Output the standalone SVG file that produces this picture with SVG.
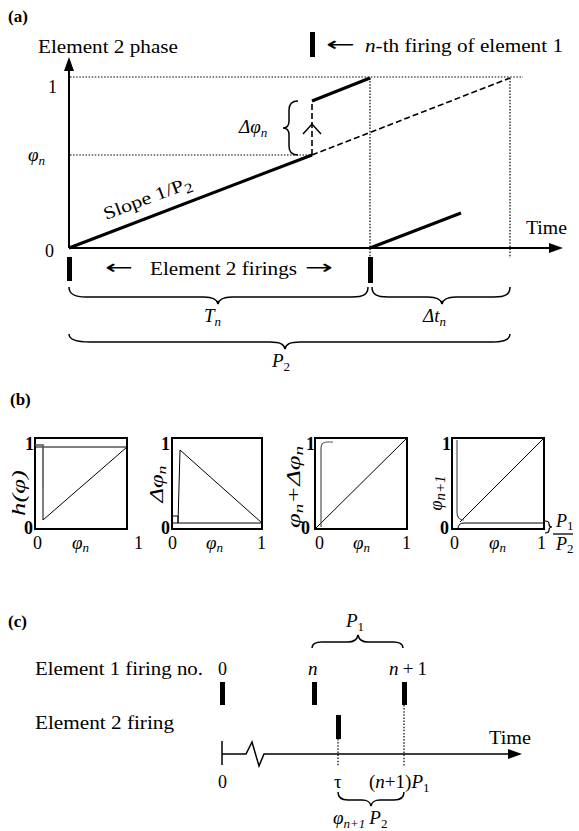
<svg xmlns="http://www.w3.org/2000/svg" width="579" height="831" viewBox="0 0 579 831">
<style>
text{font-family:"Liberation Serif","Times New Roman",serif;font-size:18px;fill:#000}
.b{font-weight:bold;font-size:17px}
.i{font-style:italic}
.m{font-size:19px}
.sub{font-size:13px}
.arr{font-family:"DejaVu Sans",sans-serif;font-size:20px}
.ax{stroke:#000;stroke-width:2;fill:none}
.thick{stroke:#000;stroke-width:3;fill:none}
.dot{stroke:#000;stroke-width:1.2;stroke-dasharray:1.5 1.6;fill:none}
.dash{stroke:#000;stroke-width:1.6;stroke-dasharray:6 3;fill:none}
.brace{stroke:#000;stroke-width:1.5;fill:none}
.box{stroke:#000;stroke-width:2;fill:none}
.thin{stroke:#000;stroke-width:1;fill:none}
.gray{stroke:#555;stroke-width:1.6;fill:none}
.bar{fill:#000}
</style>

<!-- Panel (a) -->
<g id="panel-a">
  <text class="b" x="8" y="22">(a)</text>
  <text x="38" y="53" textLength="140" lengthAdjust="spacingAndGlyphs">Element 2 phase</text>
  <g id="legend-bar">
    <rect class="bar" x="310" y="32" width="5" height="25"/>
    <text class="arr" x="326" y="51" textLength="29" lengthAdjust="spacingAndGlyphs">←</text>
    <text x="365" y="52" textLength="198" lengthAdjust="spacingAndGlyphs"><tspan class="i">n</tspan>-th firing of element 1</text>
  </g>
  <text x="48" y="93">1</text>
  <text class="i m" x="28" y="161">φ<tspan class="sub" dy="4">n</tspan></text>
  <text x="45" y="257">0</text>
  <text x="526" y="234" textLength="41" lengthAdjust="spacingAndGlyphs">Time</text>
  <text x="106" y="220" transform="rotate(-20.7 106 220)" font-size="20" textLength="93" lengthAdjust="spacingAndGlyphs">Slope 1/P<tspan font-size="14" dy="4">2</tspan></text>
  <text class="i m" x="239" y="133">Δφ<tspan class="sub" dy="4">n</tspan></text>
  <text class="arr" x="105" y="274" textLength="28" lengthAdjust="spacingAndGlyphs">←</text>
  <text x="150" y="275" textLength="147" lengthAdjust="spacingAndGlyphs">Element 2 firings</text>
  <text class="arr" x="305" y="274" textLength="28" lengthAdjust="spacingAndGlyphs">→</text>
  <text class="i m" x="204" y="322">T<tspan class="sub" dy="4">n</tspan></text>
  <text class="i m" x="423" y="322">Δt<tspan class="sub" dy="4">n</tspan></text>
  <text class="i m" x="272" y="367">P<tspan class="sub" style="font-style:normal" dy="4">2</tspan></text>
</g>

<g id="connectors-a">
  <line class="ax" x1="69" y1="248" x2="69" y2="68"/>
  <polygon points="69,57 64,71 74,71"/>
  <line class="ax" x1="69" y1="248" x2="552" y2="248"/>
  <polygon points="563,248 549,243 549,253"/>
  <line class="dot" x1="70" y1="77" x2="523" y2="77"/>
  <line class="dot" x1="70" y1="155" x2="312" y2="155"/>
  <line class="dot" x1="370" y1="78" x2="370" y2="257"/>
  <line class="dot" x1="510" y1="78" x2="510" y2="258"/>
  <line class="thick" x1="69" y1="248" x2="312" y2="155"/>
  <line class="dash" x1="312" y1="155" x2="312" y2="101"/>
  <polyline class="thin" points="303,134 312,124 321,134" style="stroke-width:1.5"/>
  <line class="thick" x1="312" y1="101" x2="370" y2="78"/>
  <line class="dash" x1="312" y1="155" x2="510" y2="78"/>
  <line class="thick" x1="370" y1="248" x2="461" y2="213"/>
  <rect class="bar" x="67" y="257" width="5" height="24"/>
  <rect class="bar" x="368" y="257" width="5" height="26"/>
  <path class="brace" d="M298,101 C292,101 289,104 289,110 L289,121 C289,126 287,128 283,128 C287,128 289,130 289,135 L289,146 C289,152 292,155 298,155"/>
  <path class="brace" d="M69,287 C69,294 74,297 86,297 L204,297 C212,297 217,299 218,304 C219,299 224,297 232,297 L352,297 C364,297 368,294 368,287"/>
  <path class="brace" d="M372,287 C372,294 376,297 388,297 L428,297 C436,297 441,299 442,304 C443,299 448,297 456,297 L494,297 C506,297 510,294 510,287"/>
  <path class="brace" d="M69,334 C69,339 74,342 90,342 L270,342 C280,342 284,344 285,349 C286,344 290,342 300,342 L492,342 C505,342 510,339 510,334"/>
</g>

<!-- Panel (b) -->
<g id="panel-b">
  <text class="b" x="10" y="405">(b)</text>
</g>
<g id="plot-h">
  <rect class="box" x="35" y="438" width="92" height="91"/>
  <line class="thin" x1="35" y1="447" x2="127" y2="447"/>
  <polyline class="gray" points="35,445 43,445 43,488"/>
  <polyline class="thin" points="43,488 43,520 127,447"/>
  <text x="25" y="450" font-weight="bold" font-size="17">1</text>
  <text x="24" y="534" font-weight="bold" font-size="17">0</text>
  <text class="i" x="25" y="493" font-size="20" text-anchor="middle" transform="rotate(-90 25 493)" textLength="46" lengthAdjust="spacingAndGlyphs">h(φ)</text>
  <text x="33" y="549">0</text>
  <text class="i m" x="72" y="549">φ<tspan class="sub" dy="3">n</tspan></text>
  <text x="134" y="549">1</text>
</g>
<g id="plot-dphi">
  <rect class="box" x="172" y="438" width="90" height="91"/>
  <line class="thin" x1="172" y1="523" x2="262" y2="523"/>
  <polyline class="thin" points="173,516 178,516 178,523"/>
  <polyline class="thin" points="178,523 180,450 262,523"/>
  <text x="161" y="450" font-weight="bold" font-size="17">1</text>
  <text x="161" y="534" font-weight="bold" font-size="17">0</text>
  <text class="i" x="163" y="484" font-size="20" text-anchor="middle" transform="rotate(-90 163 484)" textLength="37" lengthAdjust="spacingAndGlyphs">Δφ<tspan class="sub" dy="3">n</tspan></text>
  <text x="168" y="549">0</text>
  <text class="i m" x="206" y="549">φ<tspan class="sub" dy="3">n</tspan></text>
  <text x="257" y="549">1</text>
</g>
<g id="plot-sum">
  <rect class="box" x="315" y="438" width="92" height="91"/>
  <line class="thin" x1="315" y1="529" x2="407" y2="438"/>
  <path class="gray" style="stroke-width:1.2" d="M321,527 L321,448 Q321,442 327,442 L333,442"/>
  <text x="306" y="450" font-weight="bold" font-size="17">1</text>
  <text x="301" y="534" font-weight="bold" font-size="17">0</text>
  <text class="i" x="300" y="487" font-size="20" text-anchor="middle" transform="rotate(-90 300 487)" textLength="82" lengthAdjust="spacingAndGlyphs">φ<tspan class="sub" dy="3">n</tspan><tspan dy="-3">+Δφ</tspan><tspan class="sub" dy="3">n</tspan></text>
  <text x="315" y="549">0</text>
  <text class="i m" x="353" y="549">φ<tspan class="sub" dy="3">n</tspan></text>
  <text x="402" y="549">1</text>
</g>
<g id="plot-next">
  <rect class="box" x="452" y="438" width="92" height="91"/>
  <line class="thin" x1="460" y1="522" x2="544" y2="438"/>
  <path class="thin" d="M544,523 L464,523 Q458,523 458,529"/>
  <path class="gray" style="stroke-width:1.2" d="M457,440 L457,512 Q457,520 464,520"/>
  <text x="442" y="450" font-weight="bold" font-size="17">1</text>
  <text x="440" y="534" font-weight="bold" font-size="17">0</text>
  <text class="i" x="442" y="493" font-size="22" text-anchor="middle" transform="rotate(-90 442 493)" textLength="35" lengthAdjust="spacingAndGlyphs">φ<tspan font-size="15" dy="3">n+1</tspan></text>
  <text x="450" y="549">0</text>
  <text class="i m" x="489" y="549">φ<tspan class="sub" dy="3">n</tspan></text>
  <text x="537" y="549">1</text>
  <path class="brace" style="stroke-width:1.2" d="M545,521 C548,521 549,522 549,524 C549,526 550,527 552,527 C550,527 549,528 549,530 C549,532 548,533 545,533"/>
  <text class="i" x="556" y="527" font-size="17">P<tspan class="sub" style="font-style:normal" font-size="11" dy="3">1</tspan></text>
  <line class="thin" x1="553" y1="534" x2="573" y2="534" style="stroke-width:1.3"/>
  <text class="i" x="556" y="550" font-size="17">P<tspan class="sub" style="font-style:normal" font-size="11" dy="3">2</tspan></text>
</g>

<!-- Panel (c) -->
<g id="panel-c">
  <text class="b" x="8" y="627">(c)</text>
  <text class="i m" x="346" y="627">P<tspan class="sub" style="font-style:normal" dy="4">1</tspan></text>
  <text x="35" y="675" textLength="168" lengthAdjust="spacingAndGlyphs">Element 1 firing no.</text>
  <text x="218" y="675">0</text>
  <text class="i m" x="308" y="675">n</text>
  <text class="m" x="389" y="675" textLength="38" lengthAdjust="spacing"><tspan class="i">n</tspan>+1</text>
  <text x="35" y="729" textLength="139" lengthAdjust="spacingAndGlyphs">Element 2 firing</text>
  <text x="489" y="744" textLength="42" lengthAdjust="spacingAndGlyphs">Time</text>
  <text x="218" y="788">0</text>
  <text class="m" x="334" y="788">τ</text>
  <text class="m" x="369" y="788">(<tspan class="i">n</tspan>+1)<tspan class="i">P</tspan><tspan class="sub" dy="4">1</tspan></text>
  <text class="i m" x="333" y="824">φ<tspan class="sub" dy="4">n+1</tspan><tspan dx="4" dy="-4">P</tspan><tspan class="sub" style="font-style:normal" dy="4">2</tspan></text>
</g>
<g id="connectors-c">
  <rect class="bar" x="220" y="682" width="5" height="23"/>
  <rect class="bar" x="312" y="682" width="5" height="23"/>
  <rect class="bar" x="402" y="682" width="5" height="23"/>
  <rect class="bar" x="336" y="715" width="5" height="24"/>
  <line class="thin" x1="222" y1="741" x2="222" y2="765" style="stroke-width:1.5"/>
  <polyline class="thin" style="stroke-width:1.5" points="222,754 246,754 252,742 259,766 264,754 510,754"/>
  <polygon points="522,754 508,749 508,759"/>
  <line class="dot" x1="338" y1="739" x2="338" y2="767"/>
  <line class="dot" x1="404" y1="705" x2="404" y2="767"/>
  <path class="brace" d="M312,648 C312,644 315,642 322,642 L348,642 C354,642 357,640 358,635 C359,640 362,642 368,642 L393,642 C400,642 403,644 403,648"/>
  <path class="brace" d="M338,792 C338,797 341,800 348,800 L362,800 C368,800 370,802 371,806 C372,802 374,800 380,800 L394,800 C401,800 404,797 404,792"/>
</g>
</svg>
